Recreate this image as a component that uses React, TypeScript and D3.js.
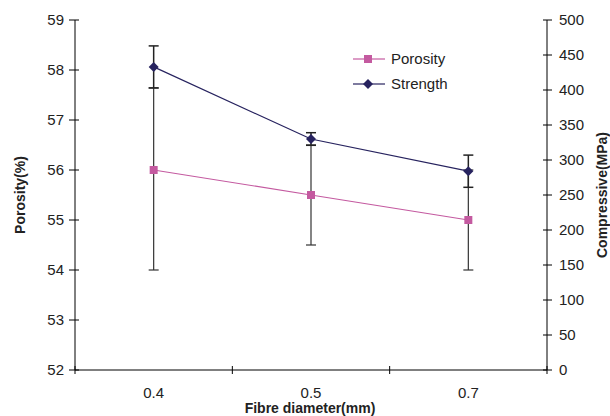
import React from "react";
import * as d3 from "d3";

const categories = ["0.4", "0.5", "0.7"];
const porosity = [56, 55.5, 55];
const porosityErrPlus = [1.64, 1, 1];
const porosityErrMinus = [2, 1, 1];
const strength = [433, 330, 284];
const strengthErr = [30, 9, 23];
const leftTicks = [52, 53, 54, 55, 56, 57, 58, 59];
const rightTicks = [0, 50, 100, 150, 200, 250, 300, 350, 400, 450, 500];
const seriesNames = ["Porosity", "Strength"];

const W = 610, H = 416;
const L = 75, R = 547, T = 20, B = 370;
const PINK = "#c45aa0";
const NAVY = "#27235f";
const FONT = "Liberation Sans, Arial, sans-serif";
const FS = 15;

export default function App() {
  const x = d3.scaleBand<string>().domain(categories).range([L, R]);
  const yL = d3.scaleLinear().domain([52, 59]).range([B, T]);
  const yR = d3.scaleLinear().domain([0, 500]).range([B, T]);
  const cx = (c: string) => (x(c) as number) + x.bandwidth() / 2;

  const lineP = d3.line<number>().x((_, i) => cx(categories[i])).y((d) => yL(d));
  const lineS = d3.line<number>().x((_, i) => cx(categories[i])).y((d) => yR(d));
  const cap = 5;
  const boundaries = [L, ...categories.map((c) => (x(c) as number) + x.bandwidth())];

  const square = (px: number, py: number, key: string) => (
    <rect key={key} x={px - 4} y={py - 4} width={8} height={8} fill={PINK} />
  );
  const diamond = (px: number, py: number, key: string) => (
    <path key={key} d={`M${px},${py - 5}L${px + 5},${py}L${px},${py + 5}L${px - 5},${py}Z`} fill={NAVY} />
  );

  return (
    <svg width={W} height={H} style={{ position: "absolute", left: 0, top: 0, background: "#fff" }} fontFamily={FONT}>
      {/* axes */}
      <line x1={L} y1={T} x2={L} y2={B} stroke="#000" />
      <line x1={R} y1={T} x2={R} y2={B} stroke="#000" />
      <line x1={L} y1={B} x2={R} y2={B} stroke="#000" />
      {leftTicks.map((t) => (
        <g key={"l" + t}>
          <line x1={L - 6} x2={L + 4} y1={yL(t)} y2={yL(t)} stroke="#000" />
          <text x={L - 11} y={yL(t)} dy="0.35em" textAnchor="end" fontSize={FS} fill="#222">{t}</text>
        </g>
      ))}
      {rightTicks.map((t) => (
        <g key={"r" + t}>
          <line x1={R - 4} x2={R + 5} y1={yR(t)} y2={yR(t)} stroke="#000" />
          <text x={R + 12} y={yR(t)} dy="0.35em" textAnchor="start" fontSize={FS} fill="#222">{t}</text>
        </g>
      ))}
      {boundaries.map((b, i) => (
        <line key={"xb" + i} x1={b} x2={b} y1={B - 4} y2={B + 4} stroke="#000" />
      ))}
      {categories.map((c) => (
        <text key={"xl" + c} x={cx(c)} y={393} dy="0.35em" textAnchor="middle" fontSize={FS} fill="#222">{c}</text>
      ))}
      <text x={310} y={413} textAnchor="middle" fontSize={14} fontWeight="bold" fill="#222">Fibre diameter(mm)</text>
      <text transform={`translate(25,195) rotate(-90)`} textAnchor="middle" fontSize={14} fontWeight="bold" fill="#222">Porosity(%)</text>
      <text transform={`translate(607,195) rotate(-90)`} textAnchor="middle" fontSize={14} fontWeight="bold" fill="#222">Compressive(MPa)</text>

      {/* error bars */}
      {categories.map((c, i) => {
        const px = cx(c);
        const top = yL(porosity[i] + porosityErrPlus[i]);
        const bot = yL(porosity[i] - porosityErrMinus[i]);
        return (
          <g key={"pe" + c} stroke="#333" strokeWidth={1.2}>
            <line x1={px} x2={px} y1={top} y2={bot} />
            <line x1={px - cap} x2={px + cap} y1={top} y2={top} />
            <line x1={px - cap} x2={px + cap} y1={bot} y2={bot} />
          </g>
        );
      })}
      {categories.map((c, i) => {
        const px = cx(c);
        const top = yR(strength[i] + strengthErr[i]);
        const bot = yR(strength[i] - strengthErr[i]);
        return (
          <g key={"se" + c} stroke="#222" strokeWidth={1.5}>
            <line x1={px} x2={px} y1={top} y2={bot} />
            <line x1={px - cap} x2={px + cap} y1={top} y2={top} />
            <line x1={px - cap} x2={px + cap} y1={bot} y2={bot} />
          </g>
        );
      })}

      {/* lines */}
      <path d={lineP(porosity) || ""} fill="none" stroke={PINK} strokeWidth={1.2} />
      <path d={lineS(strength) || ""} fill="none" stroke={NAVY} strokeWidth={1.2} />
      {porosity.map((v, i) => square(cx(categories[i]), yL(v), "ps" + i))}
      {strength.map((v, i) => diamond(cx(categories[i]), yR(v), "sd" + i))}

      {/* legend */}
      <line x1={353} x2={385} y1={59} y2={59} stroke={PINK} strokeWidth={1.2} />
      {square(368, 59, "lgp")}
      <text x={391} y={59} dy="0.35em" fontSize={FS} fill="#222">{seriesNames[0]}</text>
      <line x1={353} x2={385} y1={84} y2={84} stroke={NAVY} strokeWidth={1.2} />
      {diamond(368, 84, "lgs")}
      <text x={391} y={84} dy="0.35em" fontSize={FS} fill="#222">{seriesNames[1]}</text>
    </svg>
  );
}
